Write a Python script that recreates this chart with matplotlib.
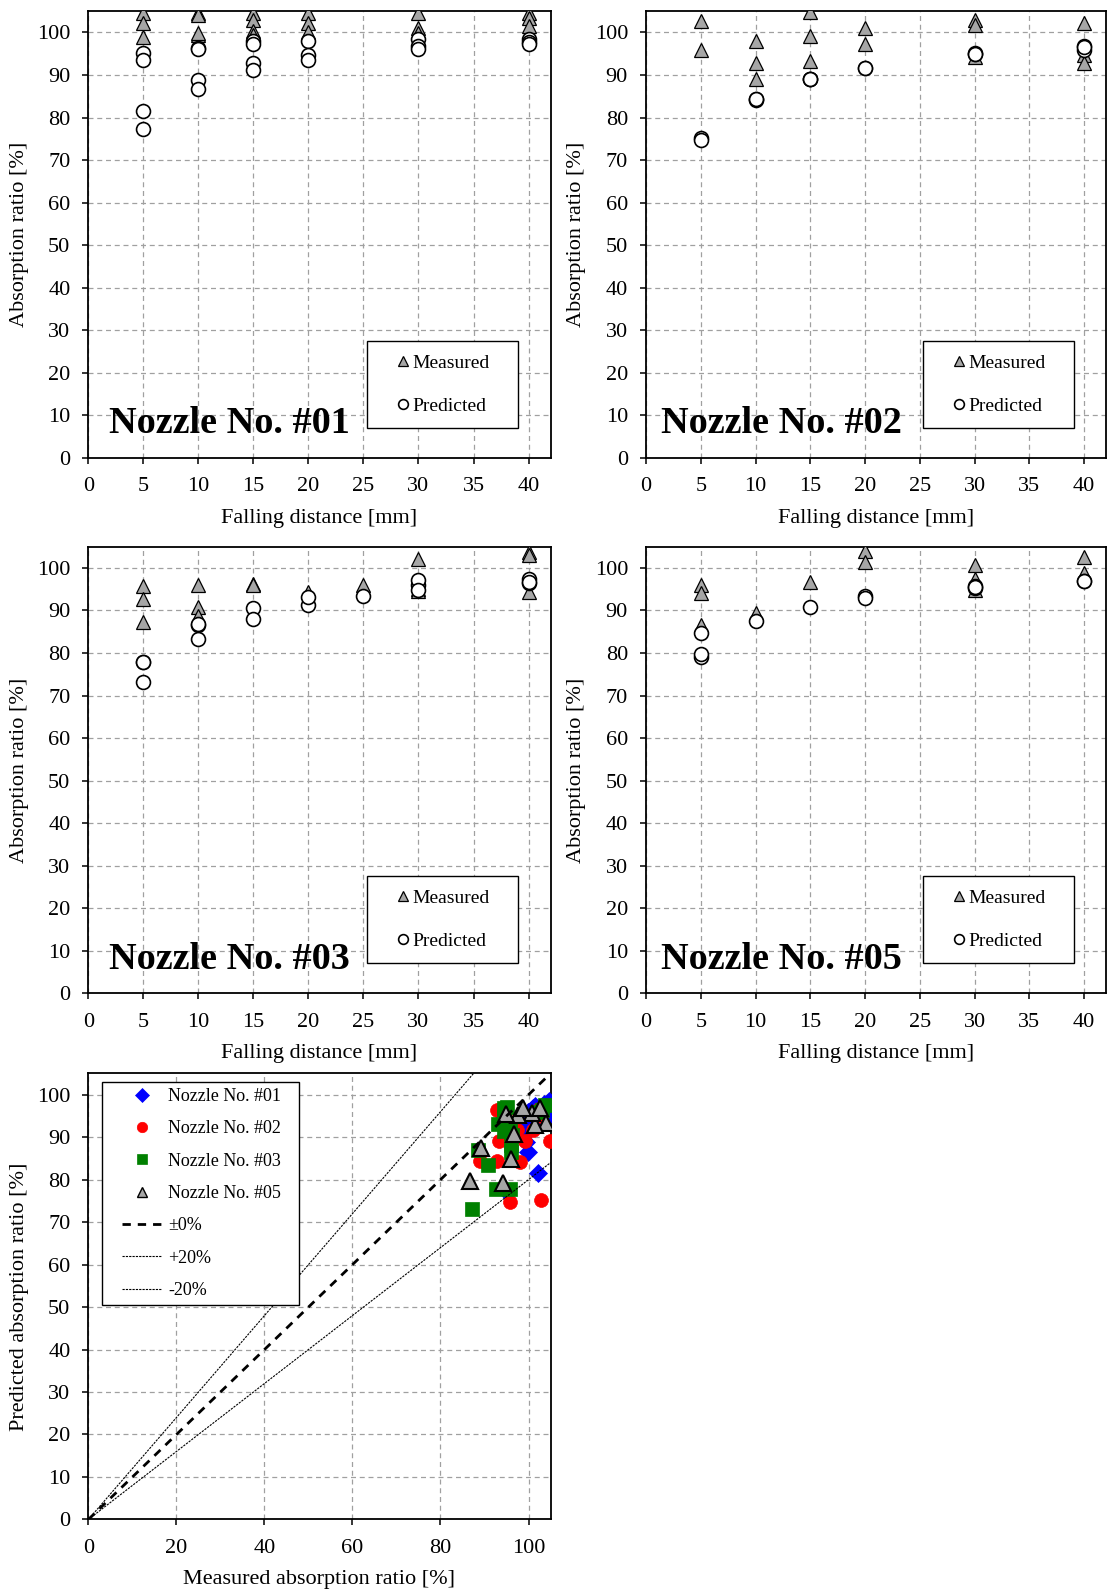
import numpy as np
import matplotlib
matplotlib.use("Agg")
import matplotlib.pyplot as plt
from matplotlib.patches import Rectangle

plt.rcParams["font.family"] = ["Liberation Serif", "DejaVu Serif"]

# ---- data: falling distance [mm], measured / predicted absorption ratio [%] ----
n01_distance = [5, 5, 5, 5, 10, 10, 10, 10, 15, 15, 15, 15, 20, 20, 20, 30, 30, 30, 40, 40, 40]
n01_measured = [104.6, 98.9, 102.1, 94.8, 104.6, 104.2, 99.5, 99.8, 104.6, 103.0, 100.3, 99.5,
                104.6, 102.3, 100.2, 104.6, 101.1, 99.9, 104.6, 103.5, 101.5]
n01_predicted = [95.2, 93.6, 81.5, 77.3, 96.4, 96.0, 88.9, 86.6, 98.0, 97.2, 92.9, 91.1,
                 98.0, 94.8, 93.5, 98.4, 96.8, 96.0, 98.5, 97.7, 97.3]

n02_distance = [5, 5, 10, 10, 10, 15, 15, 15, 20, 20, 30, 30, 30, 40, 40, 40]
n02_measured = [102.8, 95.9, 98.1, 92.9, 89.0, 104.8, 99.2, 93.4, 101.0, 97.3,
                102.9, 101.8, 94.3, 102.3, 94.7, 92.9]
n02_predicted = [75.2, 74.7, 84.1, 84.4, 84.3, 89.0, 89.0, 89.1, 91.7, 91.7,
                 95.1, 94.9, 95.0, 96.7, 95.8, 96.5]

n03_distance = [5, 5, 5, 10, 10, 10, 15, 15, 20, 20, 25, 30, 30, 30, 40, 40, 40]
n03_measured = [95.8, 92.6, 87.2, 96.1, 90.8, 88.6, 96.3, 96.0, 94.4, 93.0, 95.9,
                102.2, 95.0, 94.5, 103.8, 103.0, 94.4]
n03_predicted = [77.9, 77.9, 73.2, 86.5, 83.4, 86.9, 90.6, 88.1, 91.4, 93.1, 93.3,
                 95.9, 97.1, 94.8, 97.5, 96.5, 96.8]

n05_distance = [5, 5, 5, 10, 15, 20, 20, 30, 30, 30, 40, 40]
n05_measured = [96.1, 94.1, 86.7, 89.3, 96.6, 103.9, 101.4, 100.8, 97.5, 94.8, 102.6, 98.7]
n05_predicted = [84.8, 79.1, 79.7, 87.5, 90.8, 93.3, 92.9, 95.8, 95.3, 95.5, 96.9, 96.9]

nozzle_names = ["Nozzle No. #01", "Nozzle No. #02", "Nozzle No. #03", "Nozzle No. #05"]
deviation_ratios = [1.0, 1.2, 0.8]
deviation_labels = ["\u00b10%", "+20%", "-20%"]

distance_ticks = list(range(0, 45, 5))
ratio_ticks = list(range(0, 110, 10))
measured_ticks = list(range(0, 120, 20))

datasets = [
    (n01_distance, n01_measured, n01_predicted),
    (n02_distance, n02_measured, n02_predicted),
    (n03_distance, n03_measured, n03_predicted),
    (n05_distance, n05_measured, n05_predicted),
]

GRID_KW = dict(color="#a0a0a0", linestyle=(0, (4, 3)), linewidth=0.9)
TRI_GRAY = "#a6a6a6"

fig = plt.figure(figsize=(11.07, 15.92), dpi=100)

rects = [
    [0.0799, 0.7123, 0.4174, 0.2807],
    [0.5836, 0.7123, 0.4155, 0.2807],
    [0.0799, 0.3761, 0.4174, 0.2805],
    [0.5836, 0.3761, 0.4155, 0.2805],
]
title_x = [0.044, 0.033, 0.044, 0.033]


def style_axes(ax):
    ax.set_axisbelow(True)
    ax.grid(True, **GRID_KW)
    for s in ax.spines.values():
        s.set_linewidth(1.3)
        s.set_color("black")
    ax.tick_params(direction="out", length=4, width=1.1, labelsize=16,
                   top=False, right=False)
    ax.tick_params(axis="x", pad=10)
    ax.tick_params(axis="y", pad=9)


for rect, (dist, meas, pred), name, tx in zip(rects, datasets, nozzle_names, title_x):
    ax = fig.add_axes(rect)
    ax.plot(dist, meas, ls="none", marker="^", ms=10, mfc=TRI_GRAY, mec="black",
            mew=0.9, zorder=3, label="Measured")
    ax.plot(dist, pred, ls="none", marker="o", ms=10, mfc="white", mec="black",
            mew=1.2, zorder=4, label="Predicted")
    ax.set_xlim(0, 42)
    ax.set_ylim(0, 105)
    ax.set_xticks(distance_ticks)
    ax.set_yticks(ratio_ticks)
    style_axes(ax)
    ax.set_xlabel("Falling distance [mm]", fontsize=16, labelpad=9)
    ax.set_ylabel("Absorption ratio [%]", fontsize=16, labelpad=6)

    ax.text(tx, 0.055, name, transform=ax.transAxes, fontsize=27.5,
            fontweight="bold", ha="left", va="baseline", zorder=6)

    box = Rectangle((0.603, 0.068), 0.327, 0.194, transform=ax.transAxes,
                    facecolor="white", edgecolor="black", linewidth=1.0, zorder=5)
    ax.add_patch(box)
    leg = ax.legend(loc="center", bbox_to_anchor=(0.7665, 0.165), frameon=False,
                    fontsize=14, handlelength=0.7, handletextpad=0.15,
                    labelspacing=1.3, markerscale=0.7, borderpad=0.2)
    leg.set_zorder(6)

# ---- measured vs predicted comparison ----
ax5 = fig.add_axes([0.0799, 0.0456, 0.4174, 0.2801])
styles = [
    dict(marker="D", ms=9, mfc="#0000ff", mec="#0000ff", mew=0.5),
    dict(marker="o", ms=10, mfc="#ff0000", mec="#ff0000", mew=0.5),
    dict(marker="s", ms=9.5, mfc="#008000", mec="#008000", mew=0.5),
    dict(marker="^", ms=11, mfc=TRI_GRAY, mec="black", mew=1.5),
]
for (dist, meas, pred), name, st in zip(datasets, nozzle_names, styles):
    ax5.plot(meas, pred, ls="none", label=name, zorder=3, **st)

line_x = np.array([0.0, 105.0])
line_styles = [
    dict(lw=2.0, ls=(0, (3, 2.5))),
    dict(lw=0.8, ls=(0, (2, 1))),
    dict(lw=0.8, ls=(0, (2, 1))),
]
for ratio, lab, st in zip(deviation_ratios, deviation_labels, line_styles):
    ax5.plot(line_x, ratio * line_x, color="black", label=lab, zorder=4, **st)

ax5.set_xlim(0, 105)
ax5.set_ylim(0, 105)
ax5.set_xticks(measured_ticks)
ax5.set_yticks(ratio_ticks)
style_axes(ax5)
ax5.set_xlabel("Measured absorption ratio [%]", fontsize=16, labelpad=9)
ax5.set_ylabel("Predicted absorption ratio [%]", fontsize=16, labelpad=6)

box5 = Rectangle((0.030, 0.481), 0.426, 0.500, transform=ax5.transAxes,
                 facecolor="white", edgecolor="black", linewidth=1.0, zorder=5)
ax5.add_patch(box5)
leg5 = ax5.legend(loc="center", bbox_to_anchor=(0.245, 0.731), frameon=False,
                  fontsize=13, handlelength=2.2, handletextpad=0.35,
                  labelspacing=0.85, markerscale=0.75, borderpad=0.2)
leg5.set_zorder(6)
# smaller, thinner-edged triangle in the key
tri_handle = leg5.legend_handles[3]
tri_handle.set_markersize(6.5)
tri_handle.set_markeredgewidth(1.0)

fig.savefig("out.png", dpi=100)
